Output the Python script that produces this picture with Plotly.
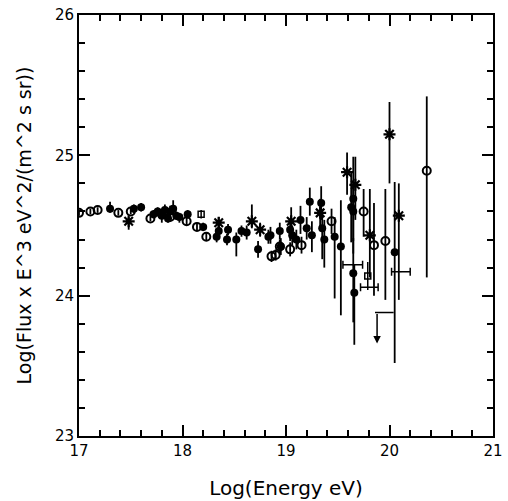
import plotly.graph_objects as go

# ---- data ----
# open circles
oc_E = [17.00, 17.11, 17.18, 17.38, 17.50, 17.69, 17.80, 17.88, 18.04, 18.14, 18.23,
        18.86, 18.90, 18.94, 19.04, 19.15, 19.44, 19.75, 19.85, 19.96, 20.36]
oc_F = [24.59, 24.60, 24.61, 24.59, 24.60, 24.55, 24.58, 24.56, 24.53, 24.49, 24.42,
        24.28, 24.29, 24.35, 24.33, 24.36, 24.53, 24.60, 24.36, 24.39, 24.89]
oc_up = [0.02, 0.02, 0.02, 0.02, 0.02, 0.02, 0.02, 0.03, 0.03, 0.03, 0.03,
         0.04, 0.04, 0.05, 0.05, 0.06, 0.09, 0.16, 0.30, 0.37, 0.53]
oc_dn = [0.02, 0.02, 0.02, 0.02, 0.02, 0.02, 0.02, 0.03, 0.03, 0.03, 0.03,
         0.04, 0.04, 0.05, 0.05, 0.06, 0.09, 0.18, 0.36, 0.42, 0.76]

# filled circles
fc_E = [17.30, 17.53, 17.60, 17.72, 17.76, 17.80, 17.83, 17.86, 17.88, 17.91, 17.94,
        17.97, 18.05, 18.20, 18.33, 18.35, 18.43, 18.44, 18.52, 18.57, 18.62, 18.73,
        18.83, 18.85, 18.94, 18.95, 19.04, 19.06, 19.10, 19.14, 19.20, 19.23, 19.25,
        19.34, 19.35, 19.37, 19.47, 19.53, 19.63, 19.65, 19.65, 19.65, 19.66, 20.05]
fc_F = [24.62, 24.62, 24.63, 24.58, 24.60, 24.57, 24.61, 24.55, 24.60, 24.62, 24.57,
        24.56, 24.58, 24.49, 24.42, 24.46, 24.40, 24.47, 24.40, 24.46, 24.45, 24.33,
        24.42, 24.43, 24.46, 24.35, 24.47, 24.43, 24.40, 24.54, 24.48, 24.67, 24.43,
        24.66, 24.48, 24.40, 24.42, 24.35, 24.63, 24.69, 24.60, 24.16, 24.02, 24.31]
fc_up = [0.05, 0.03, 0.03, 0.03, 0.03, 0.03, 0.04, 0.03, 0.04, 0.06, 0.03,
         0.03, 0.03, 0.03, 0.04, 0.04, 0.04, 0.04, 0.05, 0.04, 0.05, 0.06,
         0.05, 0.06, 0.06, 0.06, 0.08, 0.07, 0.07, 0.10, 0.08, 0.10, 0.10,
         0.12, 0.12, 0.14, 0.14, 0.33, 0.25, 0.30, 0.20, 0.25, 0.20, 0.50]
fc_dn = [0.03, 0.03, 0.03, 0.03, 0.03, 0.05, 0.04, 0.03, 0.04, 0.04, 0.03,
         0.04, 0.03, 0.03, 0.04, 0.04, 0.04, 0.04, 0.12, 0.04, 0.05, 0.06,
         0.05, 0.06, 0.06, 0.06, 0.08, 0.07, 0.07, 0.10, 0.08, 0.10, 0.12,
         0.12, 0.22, 0.20, 0.44, 0.49, 0.25, 0.30, 0.30, 0.35, 0.37, 0.79]

# star / cross symbols
x_E = [17.48, 18.35, 18.67, 18.75, 19.05, 19.33, 19.59, 19.67, 19.81, 20.00, 20.09]
x_F = [24.53, 24.52, 24.53, 24.47, 24.53, 24.59, 24.88, 24.79, 24.43, 25.15, 24.57]
x_up = [0.03, 0.04, 0.12, 0.05, 0.10, 0.10, 0.14, 0.20, 0.33, 0.23, 0.23]
x_dn = [0.06, 0.04, 0.05, 0.05, 0.05, 0.10, 0.16, 0.25, 0.30, 0.35, 0.60]

# small open squares
sq_E = [18.18, 19.79]
sq_F = [24.58, 24.14]
sq_err = [0.03, 0.10]

# energy-bin bars (horizontal)
bin_E = [19.645, 19.805, 20.11]
bin_F = [24.22, 24.06, 24.17]
bin_hw = [0.095, 0.085, 0.09]

# upper limit
ul_E_lo, ul_E_hi, ul_F = 19.86, 20.04, 23.88
ul_arrow_E, ul_arrow_F = 19.88, 23.66

FONT = "DejaVu Sans"
BLACK = "black"

fig = go.Figure()

def err(up, dn):
    return dict(type="data", symmetric=False, array=up, arrayminus=dn,
                color=BLACK, thickness=1.8, width=0)

fig.add_trace(go.Scatter(
    x=bin_E, y=bin_F, mode="markers",
    marker=dict(size=1, color=BLACK),
    error_x=dict(type="data", array=bin_hw, color=BLACK, thickness=1.5, width=4),
    showlegend=False))

fig.add_trace(go.Scatter(
    x=[ul_E_lo, ul_E_hi], y=[ul_F, ul_F], mode="lines",
    line=dict(color=BLACK, width=1.5), showlegend=False))
fig.add_annotation(x=ul_arrow_E, y=ul_arrow_F, ax=ul_arrow_E, ay=ul_F,
                   xref="x", yref="y", axref="x", ayref="y", text="",
                   showarrow=True, arrowhead=2, arrowsize=1.0, arrowwidth=1.5,
                   arrowcolor=BLACK)

fig.add_trace(go.Scatter(
    x=fc_E, y=fc_F, mode="markers",
    marker=dict(symbol="circle", size=8, color=BLACK),
    error_y=err(fc_up, fc_dn), showlegend=False))

fig.add_trace(go.Scatter(
    x=oc_E, y=oc_F, mode="markers",
    marker=dict(symbol="circle-open", size=8, color=BLACK, line=dict(width=2)),
    error_y=err(oc_up, oc_dn), showlegend=False))

fig.add_trace(go.Scatter(
    x=x_E, y=x_F, mode="markers",
    marker=dict(symbol="asterisk-open", size=10, color=BLACK, line=dict(width=2.2, color=BLACK)),
    error_y=err(x_up, x_dn), showlegend=False))

fig.add_trace(go.Scatter(
    x=sq_E, y=sq_F, mode="markers",
    marker=dict(symbol="square-open", size=6, color=BLACK, line=dict(width=1.5)),
    error_y=dict(type="data", array=sq_err, color=BLACK, thickness=1.5, width=0),
    showlegend=False))

# invisible trace on the mirror axes so they are drawn
fig.add_trace(go.Scatter(x=[None], y=[None], xaxis="x2", yaxis="y2",
                         mode="markers", showlegend=False, hoverinfo="skip"))

axis_common = dict(
    showline=True, linecolor=BLACK, linewidth=2, mirror="ticks",
    ticks="inside", ticklen=11, tickwidth=2, tickcolor=BLACK,
    showgrid=False, zeroline=False, automargin=False,
    tickfont=dict(family=FONT, size=15, color=BLACK),
)

mirror_common = dict(
    showline=False, ticks="inside", ticklen=11, tickwidth=2, tickcolor=BLACK,
    showgrid=False, zeroline=False, automargin=False, showticklabels=False,
)

fig.update_layout(
    width=508, height=501,
    margin=dict(l=79, r=15, t=15, b=65),
    paper_bgcolor="white", plot_bgcolor="white",
    font=dict(family=FONT, color=BLACK),
    xaxis=dict(range=[17, 21], tickmode="linear", dtick=1, tick0=17,
               minor=dict(ticks="inside", ticklen=6, tickwidth=1.5, tickcolor=BLACK,
                          tickmode="linear", tick0=17, dtick=0.2),
               title=dict(text="Log(Energy eV)", font=dict(family=FONT, size=20, color=BLACK), standoff=22),
               **axis_common),
    yaxis=dict(range=[23, 26], tickmode="linear", dtick=1, tick0=23,
               minor=dict(ticks="inside", ticklen=6, tickwidth=1.5, tickcolor=BLACK,
                          tickmode="linear", tick0=23, dtick=0.2),
               title=dict(text="Log(Flux x E^3 eV^2/(m^2 s sr))", font=dict(family=FONT, size=19, color=BLACK), standoff=18),
               **axis_common),
    xaxis2=dict(overlaying="x", side="top", anchor="y2", range=[17, 21],
                tickmode="linear", dtick=1, tick0=17,
                minor=dict(ticks="inside", ticklen=6, tickwidth=1.5, tickcolor=BLACK,
                           tickmode="linear", tick0=17, dtick=0.2),
                **mirror_common),
    yaxis2=dict(overlaying="y", side="right", anchor="x2", range=[23, 26],
                tickmode="linear", dtick=1, tick0=23,
                minor=dict(ticks="inside", ticklen=6, tickwidth=1.5, tickcolor=BLACK,
                           tickmode="linear", tick0=23, dtick=0.2),
                **mirror_common),
)

fig.write_html("out.html")
